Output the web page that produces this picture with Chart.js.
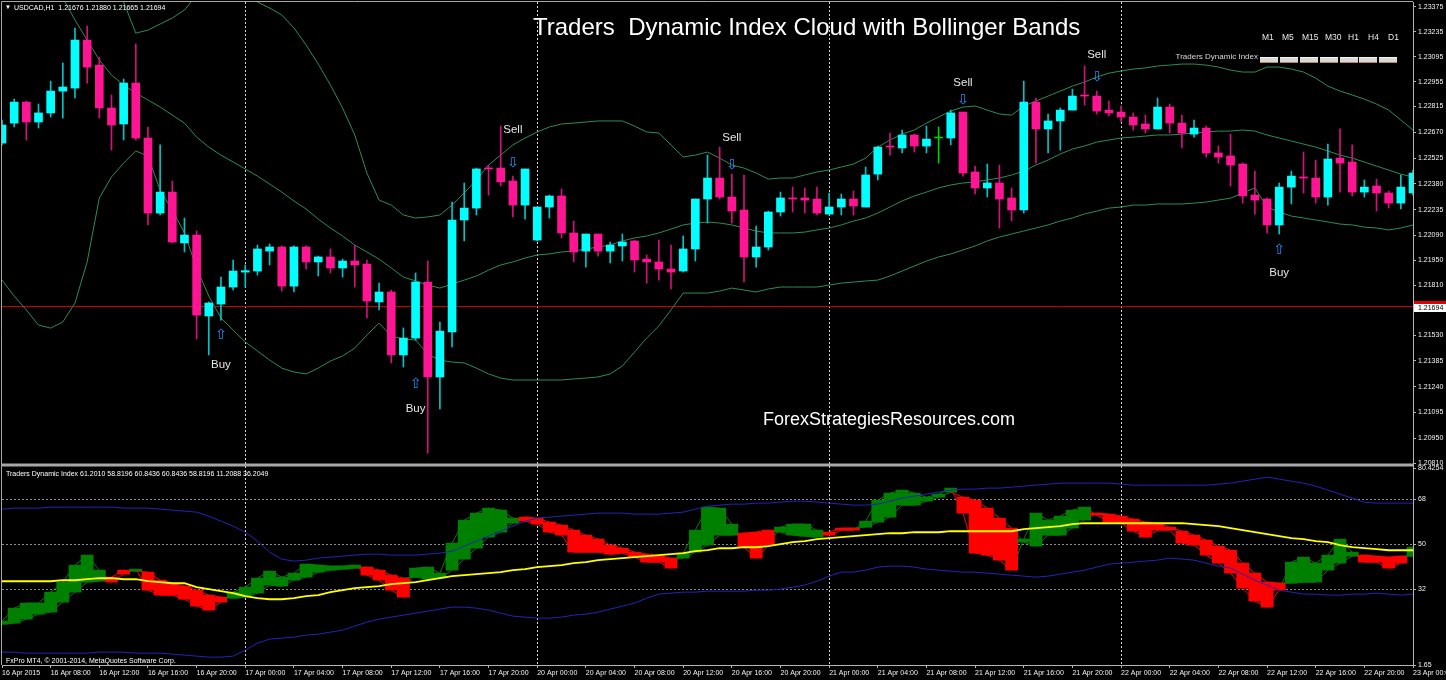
<!DOCTYPE html>
<html>
<head>
<meta charset="utf-8">
<script src="https://cdn.jsdelivr.net/npm/chart.js@4.4.1/dist/chart.umd.min.js"></script>
<style>
  html, body { margin: 0; padding: 0; background: #000; }
  #wrap { position: relative; width: 1446px; height: 680px; overflow: hidden; background: #000; }
  #chart { position: absolute; left: 0; top: 0; }
  .txt { position: absolute; white-space: pre; color: #fff; font-family: "Liberation Sans", Arial, sans-serif; line-height: 1; }
  .tf { position: absolute; top: 57px; width: 18px; height: 6px; background: #d8d8d8; border-top: 1px solid #f4f4f4; border-bottom: 1px solid #b8875a; box-sizing: border-box; }
</style>
</head>
<body>
<div id="wrap">
  <canvas id="chart" width="1446" height="680"></canvas>

  <div class="txt" style="left:5px;top:4px;font-size:6px;">▼</div>
  <div class="txt" style="left:14px;top:4px;font-size:7px;">USDCAD,H1  1.21676 1.21880 1.21665 1.21694</div>
  <div class="txt" style="left:533px;top:15px;font-size:24px;">Traders  Dynamic Index Cloud with Bollinger Bands</div>
  <div class="txt" style="left:763px;top:410px;font-size:18px;">ForexStrategiesResources.com</div>

  <div class="txt" style="left:1262px;top:33px;font-size:8.5px;color:#e8e8e8;">M1</div>
  <div class="txt" style="left:1282px;top:33px;font-size:8.5px;color:#e8e8e8;">M5</div>
  <div class="txt" style="left:1302px;top:33px;font-size:8.5px;color:#e8e8e8;">M15</div>
  <div class="txt" style="left:1325px;top:33px;font-size:8.5px;color:#e8e8e8;">M30</div>
  <div class="txt" style="left:1348px;top:33px;font-size:8.5px;color:#e8e8e8;">H1</div>
  <div class="txt" style="left:1368px;top:33px;font-size:8.5px;color:#e8e8e8;">H4</div>
  <div class="txt" style="left:1388px;top:33px;font-size:8.5px;color:#e8e8e8;">D1</div>
  <div class="txt" style="right:188px;top:53px;font-size:8px;color:#d8d8d8;">Traders Dynamic Index</div>
  <div class="tf" style="left:1260px"></div>
  <div class="tf" style="left:1280px"></div>
  <div class="tf" style="left:1300px"></div>
  <div class="tf" style="left:1320px"></div>
  <div class="tf" style="left:1340px"></div>
  <div class="tf" style="left:1359px"></div>
  <div class="tf" style="left:1379px"></div>

  <div class="txt" style="left:6px;top:470px;font-size:7px;">Traders Dynamic Index 61.2010 58.8196 60.8436 60.8436 58.8196 11.2088 36.2049</div>
  <div class="txt" style="left:6px;top:657px;font-size:7px;">FxPro MT4, © 2001-2014, MetaQuotes Software Corp.</div>
</div>

<script>
// USDCAD H1 bars, 16 Apr 04:00 -> 23 Apr 00:00 (weekend skipped)
const sessionDays = ['16 Apr', '17 Apr', '20 Apr', '21 Apr', '22 Apr', '23 Apr'];
const firstBarHour = 4;
const firstLabel = '16 Apr 2015';
const labels = [];
sessionDays.forEach((d, k) => {
  const from = k === 0 ? firstBarHour : 0;
  const to = k === sessionDays.length - 1 ? 0 : 23;
  for (let h = from; h <= to; h++) labels.push(d + ' ' + String(h).padStart(2, '0') + ':00');
});

const open = [
  1.22610, 1.22722, 1.22840, 1.22728, 1.22779, 1.22902, 1.22919, 1.23189, 1.23048, 1.22807,
  1.22717, 1.22947, 1.22638, 1.22216, 1.22334, 1.22048, 1.22092, 1.21637, 1.21704, 1.21800,
  1.21884, 1.21890, 1.22002, 1.22025, 1.21805, 1.22025, 1.21941, 1.21969, 1.21907, 1.21946,
  1.21929, 1.21716, 1.21772, 1.21418, 1.21513, 1.21828, 1.21294, 1.21547, 1.22177, 1.22244,
  1.22469, 1.22469, 1.22396, 1.22261, 1.22064, 1.22250, 1.22312, 1.22104, 1.22002, 1.22098,
  1.22002, 1.22031, 1.22059, 1.21957, 1.21941, 1.21901, 1.21890, 1.22014, 1.22295, 1.22413,
  1.22306, 1.22233, 1.21969, 1.22025, 1.22222, 1.22301, 1.22301, 1.22295, 1.22210, 1.22250,
  1.22295, 1.22250, 1.22435, 1.22593, 1.22582, 1.22655, 1.22593, 1.22638, 1.22638, 1.22784,
  1.22447, 1.22357, 1.22385, 1.22301, 1.22233, 1.22840, 1.22689, 1.22734, 1.22795, 1.22880,
  1.22874, 1.22795, 1.22784, 1.22756, 1.22717, 1.22689, 1.22812, 1.22722, 1.22660, 1.22694,
  1.22554, 1.22537, 1.22492, 1.22317, 1.22295, 1.22149, 1.22362, 1.22419, 1.22413, 1.22306,
  1.22525, 1.22503, 1.22334, 1.22368, 1.22329, 1.22272, 1.22329
];
const high = [
  1.22739, 1.22857, 1.22846, 1.22829, 1.22958, 1.23060, 1.23257, 1.23268, 1.23093, 1.22880,
  1.22970, 1.23167, 1.22700, 1.22599, 1.22396, 1.22188, 1.22115, 1.21716, 1.21856, 1.21952,
  1.21924, 1.22036, 1.22042, 1.22031, 1.22031, 1.22031, 1.21974, 1.22014, 1.21957, 1.22036,
  1.21952, 1.21822, 1.21783, 1.21570, 1.21879, 1.21946, 1.21603, 1.22278, 1.22385, 1.22469,
  1.22486, 1.22705, 1.22424, 1.22464, 1.22250, 1.22317, 1.22351, 1.22171, 1.22098, 1.22098,
  1.22053, 1.22098, 1.22064, 1.21980, 1.22064, 1.22036, 1.22087, 1.22295, 1.22542, 1.22587,
  1.22435, 1.22430, 1.22143, 1.22227, 1.22334, 1.22362, 1.22357, 1.22362, 1.22329, 1.22323,
  1.22340, 1.22475, 1.22593, 1.22666, 1.22683, 1.22660, 1.22705, 1.22700, 1.22795, 1.22784,
  1.22480, 1.22492, 1.22486, 1.22357, 1.22958, 1.22863, 1.22773, 1.22807, 1.22913, 1.23043,
  1.22902, 1.22846, 1.22818, 1.22779, 1.22767, 1.22863, 1.22829, 1.22767, 1.22739, 1.22705,
  1.22593, 1.22660, 1.22497, 1.22452, 1.22301, 1.22385, 1.22452, 1.22559, 1.22514, 1.22604,
  1.22689, 1.22599, 1.22402, 1.22407, 1.22340, 1.22430, 1.22458
];
const low = [
  1.22599, 1.22700, 1.22627, 1.22694, 1.22756, 1.22750, 1.22863, 1.22947, 1.22750, 1.22570,
  1.22627, 1.22627, 1.22149, 1.22205, 1.22048, 1.21997, 1.21508, 1.21418, 1.21614, 1.21783,
  1.21800, 1.21867, 1.21924, 1.21777, 1.21772, 1.21901, 1.21862, 1.21879, 1.21856, 1.21800,
  1.21626, 1.21671, 1.21373, 1.21350, 1.21502, 1.20866, 1.21114, 1.21463, 1.22059, 1.22205,
  1.22317, 1.22368, 1.22194, 1.22182, 1.22059, 1.22188, 1.22076, 1.21941, 1.21912, 1.21974,
  1.21935, 1.21946, 1.21884, 1.21822, 1.21839, 1.21789, 1.21884, 1.21946, 1.22160, 1.22295,
  1.22160, 1.21828, 1.21912, 1.22008, 1.22199, 1.22222, 1.22216, 1.22205, 1.22205, 1.22205,
  1.22205, 1.22250, 1.22402, 1.22542, 1.22554, 1.22559, 1.22554, 1.22497, 1.22599, 1.22424,
  1.22323, 1.22306, 1.22132, 1.22171, 1.22216, 1.22497, 1.22554, 1.22570, 1.22795, 1.22823,
  1.22773, 1.22762, 1.22728, 1.22683, 1.22666, 1.22689, 1.22666, 1.22582, 1.22643, 1.22531,
  1.22497, 1.22368, 1.22272, 1.22210, 1.22104, 1.22098, 1.22267, 1.22329, 1.22272, 1.22261,
  1.22334, 1.22312, 1.22306, 1.22227, 1.22244, 1.22239, 1.22317
];
const close = [
  1.22711, 1.22840, 1.22728, 1.22779, 1.22902, 1.22925, 1.23189, 1.23037, 1.22807, 1.22711,
  1.22947, 1.22638, 1.22216, 1.22334, 1.22053, 1.22092, 1.21642, 1.21710, 1.21800, 1.21890,
  1.21892, 1.22014, 1.22025, 1.21805, 1.22025, 1.21941, 1.21969, 1.21907, 1.21946, 1.21924,
  1.21721, 1.21772, 1.21418, 1.21513, 1.21828, 1.21294, 1.21552, 1.22177, 1.22244, 1.22464,
  1.22464, 1.22391, 1.22261, 1.22464, 1.22250, 1.22312, 1.22104, 1.21997, 1.22098, 1.22002,
  1.22036, 1.22053, 1.21952, 1.21941, 1.21901, 1.21884, 1.22014, 1.22295, 1.22413, 1.22306,
  1.22227, 1.21969, 1.22025, 1.22222, 1.22301, 1.22295, 1.22289, 1.22216, 1.22250, 1.22295,
  1.22256, 1.22430, 1.22587, 1.22587, 1.22655, 1.22593, 1.22632, 1.22638, 1.22779, 1.22441,
  1.22357, 1.22385, 1.22295, 1.22233, 1.22840, 1.22689, 1.22734, 1.22795, 1.22874, 1.22874,
  1.22790, 1.22779, 1.22756, 1.22711, 1.22689, 1.22812, 1.22722, 1.22666, 1.22694, 1.22554,
  1.22531, 1.22486, 1.22312, 1.22289, 1.22149, 1.22362, 1.22424, 1.22413, 1.22306, 1.22520,
  1.22497, 1.22334, 1.22362, 1.22329, 1.22272, 1.22362, 1.22441
];

// Bollinger Bands (20) on price
const bbUpper = [
  1.26114, 1.25979, 1.25810, 1.25669, 1.25461, 1.25247, 1.24893, 1.24438, 1.23853, 1.23566,
  1.23403, 1.23228, 1.23245, 1.23279, 1.23313, 1.23358, 1.23442, 1.23555, 1.23583, 1.23555,
  1.23470, 1.23403, 1.23369, 1.23330, 1.23257, 1.23161, 1.23054, 1.22936, 1.22807, 1.22655,
  1.22441, 1.22289, 1.22261, 1.22205, 1.22188, 1.22194, 1.22205, 1.22261, 1.22329, 1.22402,
  1.22486, 1.22542, 1.22599, 1.22638, 1.22672, 1.22700, 1.22717, 1.22722, 1.22728, 1.22734,
  1.22734, 1.22734, 1.22705, 1.22672, 1.22666, 1.22599, 1.22531, 1.22542, 1.22559, 1.22525,
  1.22486, 1.22469, 1.22441, 1.22407, 1.22413, 1.22413, 1.22430, 1.22447, 1.22458, 1.22475,
  1.22492, 1.22525, 1.22587, 1.22627, 1.22660, 1.22683, 1.22722, 1.22756, 1.22790, 1.22812,
  1.22818, 1.22795, 1.22773, 1.22767, 1.22818, 1.22846, 1.22874, 1.22902, 1.22930, 1.22953,
  1.22981, 1.23003, 1.23015, 1.23026, 1.23032, 1.23043, 1.23048, 1.23054, 1.23054, 1.23048,
  1.23037, 1.23020, 1.23009, 1.23009, 1.23037, 1.23037, 1.23026, 1.23009, 1.22975, 1.22930,
  1.22902, 1.22880, 1.22857, 1.22829, 1.22795, 1.22739, 1.22683
];
const bbMiddle = [
  1.23976, 1.23864, 1.23740, 1.23628, 1.23515, 1.23425, 1.23302, 1.23189, 1.23077, 1.22992,
  1.22936, 1.22891, 1.22852, 1.22812, 1.22767, 1.22722, 1.22643, 1.22587, 1.22542, 1.22503,
  1.22464, 1.22424, 1.22379, 1.22334, 1.22284, 1.22239, 1.22182, 1.22132, 1.22087, 1.22036,
  1.21997, 1.21957, 1.21907, 1.21856, 1.21834, 1.21811, 1.21794, 1.21817, 1.21839, 1.21862,
  1.21895, 1.21924, 1.21941, 1.21963, 1.21980, 1.21986, 1.21997, 1.22002, 1.22014, 1.22025,
  1.22036, 1.22059, 1.22076, 1.22087, 1.22104, 1.22126, 1.22149, 1.22160, 1.22165, 1.22160,
  1.22149, 1.22132, 1.22115, 1.22104, 1.22104, 1.22104, 1.22109, 1.22121, 1.22132, 1.22149,
  1.22171, 1.22188, 1.22216, 1.22250, 1.22284, 1.22312, 1.22334, 1.22357, 1.22374, 1.22385,
  1.22391, 1.22402, 1.22413, 1.22430, 1.22452, 1.22486, 1.22514, 1.22548, 1.22576, 1.22593,
  1.22615, 1.22627, 1.22638, 1.22643, 1.22649, 1.22655, 1.22655, 1.22660, 1.22666, 1.22672,
  1.22677, 1.22677, 1.22683, 1.22677, 1.22655, 1.22638, 1.22621, 1.22604, 1.22587, 1.22565,
  1.22542, 1.22525, 1.22503, 1.22480, 1.22458, 1.22435, 1.22419
];
const bbLower = [
  1.21839, 1.21749, 1.21671, 1.21586, 1.21569, 1.21603, 1.21710, 1.21941, 1.22300, 1.22419,
  1.22497, 1.22565, 1.22537, 1.22345, 1.22233, 1.22104, 1.21907, 1.21749, 1.21626, 1.21558,
  1.21491, 1.21440, 1.21389, 1.21344, 1.21322, 1.21311, 1.21344, 1.21384, 1.21412, 1.21457,
  1.21530, 1.21597, 1.21524, 1.21508, 1.21502, 1.21423, 1.21389, 1.21378, 1.21373, 1.21344,
  1.21311, 1.21288, 1.21277, 1.21277, 1.21277, 1.21277, 1.21277, 1.21283, 1.21288, 1.21294,
  1.21311, 1.21356, 1.21434, 1.21513, 1.21581, 1.21671, 1.21766, 1.21766, 1.21766, 1.21777,
  1.21794, 1.21783, 1.21772, 1.21789, 1.21800, 1.21800, 1.21800, 1.21800, 1.21811, 1.21822,
  1.21828, 1.21834, 1.21839, 1.21862, 1.21890, 1.21918, 1.21946, 1.21969, 1.21986, 1.22008,
  1.22031, 1.22059, 1.22081, 1.22098, 1.22115, 1.22132, 1.22149, 1.22171, 1.22188, 1.22211,
  1.22227, 1.22244, 1.22250, 1.22261, 1.22261, 1.22267, 1.22267, 1.22267, 1.22272, 1.22278,
  1.22289, 1.22300, 1.22329, 1.22357, 1.22250, 1.22222, 1.22199, 1.22188, 1.22177, 1.22166,
  1.22154, 1.22149, 1.22137, 1.22132, 1.22121, 1.22132, 1.22149
];

// Traders Dynamic Index
const tdiPrice = [
  19.2, 24.4, 26.4, 26.4, 30.8, 34.8, 41.6, 45.6, 39.6, 34.8,
  38.0, 40.0, 31.6, 29.6, 29.6, 28.0, 25.2, 23.6, 26.8, 30.8,
  32.8, 36.4, 39.2, 36.8, 38.4, 42.0, 41.6, 41.2, 41.2, 41.6,
  37.6, 35.6, 31.6, 28.8, 40.4, 40.8, 38.4, 50.4, 59.6, 62.4,
  64.4, 63.6, 60.4, 59.2, 58.0, 54.8, 53.6, 46.8, 46.8, 46.8,
  46.0, 46.4, 44.8, 42.8, 42.8, 40.4, 46.4, 55.6, 64.8, 64.4,
  58.0, 48.8, 44.4, 49.6, 56.8, 58.0, 58.0, 55.6, 53.6, 55.6,
  55.6, 59.2, 67.6, 70.4, 71.6, 70.4, 68.8, 70.0, 72.4, 62.4,
  46.4, 45.6, 43.6, 39.6, 52.0, 62.4, 59.6, 61.2, 63.6, 64.8,
  61.6, 58.8, 58.4, 55.2, 52.8, 55.6, 55.6, 50.4, 49.6, 45.6,
  42.4, 38.4, 32.4, 27.2, 24.8, 31.6, 42.8, 44.8, 42.4, 45.6,
  52.0, 46.8, 42.8, 42.8, 40.4, 42.4, 48.8
];
const tdiSignal = [
  18.0, 18.4, 20.0, 22.0, 22.8, 26.8, 30.8, 34.8, 35.2, 36.8,
  39.6, 39.2, 38.8, 35.6, 34.4, 33.2, 31.6, 29.6, 28.8, 28.4,
  28.8, 30.4, 33.6, 33.2, 35.6, 36.8, 38.8, 39.6, 40.0, 40.4,
  40.8, 39.6, 37.6, 36.4, 36.8, 36.0, 36.4, 39.6, 44.0, 48.4,
  52.8, 54.8, 58.4, 60.8, 60.4, 58.8, 57.6, 55.6, 53.6, 52.0,
  49.6, 48.4, 46.8, 46.0, 45.2, 44.4, 44.4, 46.8, 49.6, 53.6,
  53.6, 54.4, 54.8, 55.6, 54.8, 53.6, 53.2, 52.8, 54.8, 56.4,
  56.4, 56.8, 58.8, 60.8, 65.6, 65.6, 67.2, 68.8, 70.8, 68.8,
  67.6, 64.4, 60.4, 56.4, 50.8, 49.2, 53.6, 53.6, 56.4, 59.6,
  62.4, 62.0, 61.2, 60.0, 58.8, 58.4, 56.8, 55.2, 53.6, 51.6,
  49.2, 47.6, 42.4, 38.4, 34.8, 34.4, 34.4, 34.8, 34.8, 39.6,
  42.4, 45.2, 45.6, 45.2, 44.8, 45.2, 45.2
];
const tdiBase = [
  35.2, 35.2, 35.2, 35.2, 35.2, 35.6, 35.6, 36.0, 36.4, 36.4,
  36.0, 36.0, 35.2, 34.8, 34.4, 34.4, 32.8, 32.0, 31.2, 30.4,
  29.2, 28.4, 28.0, 28.0, 28.4, 29.2, 29.6, 30.8, 31.6, 32.4,
  32.8, 33.2, 34.0, 34.4, 34.8, 35.6, 36.4, 37.2, 37.6, 38.0,
  38.4, 38.8, 39.6, 40.0, 40.8, 41.2, 41.6, 42.4, 42.8, 43.6,
  44.0, 44.4, 44.8, 45.2, 45.6, 46.0, 46.4, 47.2, 47.6, 48.4,
  48.4, 48.8, 48.8, 49.2, 50.0, 50.8, 51.2, 52.0, 52.4, 52.8,
  53.2, 53.6, 54.0, 54.4, 54.4, 54.8, 54.8, 54.8, 55.2, 55.2,
  55.2, 55.2, 55.2, 55.2, 56.0, 56.4, 56.8, 57.2, 58.0, 58.4,
  58.4, 58.4, 58.4, 58.4, 58.4, 58.4, 58.4, 58.4, 58.0, 57.6,
  57.2, 56.4, 55.6, 54.8, 54.0, 53.2, 52.4, 52.0, 51.2, 50.8,
  49.6, 48.8, 48.4, 48.0, 47.6, 47.6, 47.6
];
const tdiUpper = [
  64.0, 64.4, 64.4, 64.4, 64.8, 64.8, 64.8, 64.8, 64.8, 64.8,
  64.4, 64.4, 64.4, 64.0, 63.6, 63.2, 62.8, 61.2, 59.2, 57.2,
  54.8, 51.2, 46.8, 44.0, 43.2, 43.6, 44.4, 44.8, 45.2, 45.6,
  46.0, 46.0, 45.6, 45.6, 45.6, 46.0, 46.4, 47.2, 49.2, 51.2,
  53.2, 55.2, 57.2, 59.2, 60.4, 60.8, 61.2, 61.6, 62.0, 62.4,
  62.4, 62.4, 62.0, 62.0, 62.0, 62.4, 62.8, 64.0, 65.2, 65.6,
  66.0, 66.0, 66.4, 66.4, 66.8, 67.2, 67.2, 66.8, 66.4, 66.0,
  65.6, 65.6, 66.0, 67.2, 68.4, 69.2, 70.0, 70.8, 71.6, 72.0,
  72.0, 72.4, 72.4, 72.8, 73.2, 73.6, 74.0, 74.4, 74.4, 74.4,
  74.4, 74.4, 74.0, 73.6, 73.6, 73.6, 73.6, 73.6, 73.6, 73.6,
  74.0, 74.4, 75.2, 76.0, 76.8, 76.0, 75.2, 74.4, 73.2, 71.6,
  70.0, 68.4, 66.8, 66.4, 66.4, 66.4, 66.4
];
const tdiLower = [
  6.8, 6.8, 6.4, 6.4, 6.4, 6.4, 6.4, 6.4, 6.8, 6.8,
  6.8, 6.4, 6.4, 6.4, 6.0, 5.6, 5.2, 4.8, 4.8, 5.2,
  7.6, 10.4, 12.0, 12.4, 12.8, 13.6, 14.0, 14.8, 15.6, 17.2,
  18.8, 20.0, 20.8, 21.6, 22.4, 23.2, 24.0, 24.8, 24.8, 24.4,
  23.6, 22.4, 21.2, 20.8, 20.4, 20.4, 20.8, 21.6, 22.0, 22.8,
  24.0, 25.2, 26.4, 28.4, 30.0, 30.4, 30.8, 30.8, 31.2, 31.2,
  31.2, 31.2, 31.6, 31.6, 32.0, 32.8, 33.6, 35.2, 37.2, 38.8,
  38.8, 39.6, 40.8, 41.2, 41.2, 40.8, 40.0, 39.6, 39.2, 38.8,
  38.8, 38.4, 38.0, 37.6, 37.2, 36.8, 37.2, 38.0, 38.8, 39.6,
  40.8, 42.0, 42.4, 42.8, 43.2, 43.6, 44.4, 44.0, 43.6, 42.4,
  41.2, 40.4, 38.0, 35.6, 33.6, 31.6, 30.8, 30.0, 30.0, 29.6,
  29.6, 30.0, 30.0, 30.4, 30.0, 29.6, 30.0
];

const priceTicks = [1.23375, 1.23235, 1.23095, 1.22955, 1.22815, 1.22670, 1.22525, 1.22380, 1.22235, 1.22090,
  1.21950, 1.21810, 1.21670, 1.21530, 1.21385, 1.21240, 1.21095, 1.20950, 1.20810];
const tdiTicks = [1.65, 32, 50, 68, 80.4254];
const tdiLevels = [32, 50, 68];
const bidPrice = 1.21694;

const signalBars = [18, 34, 42, 60, 79, 90, 105];
const signalSide = ['Buy', 'Buy', 'Sell', 'Sell', 'Sell', 'Sell', 'Buy'];
const arrowPrices = [1.21530, 1.21254, 1.22497, 1.22486, 1.22852, 1.22981, 1.22008];
const textPrices = [1.21361, 1.21114, 1.22683, 1.22638, 1.22947, 1.23105, 1.21879];

const colors = {
  bull: '#00ffff', bear: '#ff1493', doji: '#00d000',
  bullWick: '#00c4c4', bearWick: '#d4107c',
  bb: '#2e8b57', blue: '#2424b8', yellow: '#ffff00',
  cloudUp: '#008000', cloudDown: '#ff0000',
  axis: '#b4b4b4', text: '#f2f2f2'
};

const candleColor = (i, up, down, flat) =>
  close[i] > open[i] ? up : (close[i] < open[i] ? down : flat);

const axisFont = { family: '"Liberation Sans", Arial, sans-serif', size: 7 };

const mtOverlay = {
  id: 'mtOverlay',
  beforeDatasetsDraw(chart) {
    const { ctx, chartArea: a, scales: { x, y } } = chart;
    ctx.save();
    ctx.lineWidth = 1;
    // period separators (each new day)
    ctx.strokeStyle = '#d8d8d8';
    ctx.setLineDash([2, 2]);
    labels.forEach((lab, i) => {
      if (i === 0 || !lab.endsWith('00:00')) return;
      const px = Math.round(x.getPixelForValue(i)) + 0.5;
      if (px >= a.right - 1) return;
      ctx.beginPath(); ctx.moveTo(px, a.top); ctx.lineTo(px, a.bottom); ctx.stroke();
    });
    ctx.setLineDash([]);
    // bid line
    const by = Math.round(y.getPixelForValue(bidPrice)) + 0.5;
    ctx.strokeStyle = '#c80000';
    ctx.beginPath(); ctx.moveTo(a.left, by); ctx.lineTo(a.right, by); ctx.stroke();
    ctx.restore();
  },
  afterDatasetsDraw(chart) {
    const { ctx, scales: { x, y } } = chart;
    ctx.save();
    ctx.textAlign = 'center';
    ctx.textBaseline = 'middle';
    signalBars.forEach((bar, k) => {
      const px = x.getPixelForValue(bar);
      ctx.fillStyle = '#1e90ff';
      ctx.font = '14px "DejaVu Sans"';
      ctx.fillText(signalSide[k] === 'Buy' ? '⇧' : '⇩', px, y.getPixelForValue(arrowPrices[k]));
      ctx.fillStyle = '#e6e6e6';
      ctx.font = '11.5px "Liberation Sans", Arial';
      ctx.fillText(signalSide[k], px, y.getPixelForValue(textPrices[k]));
    });
    ctx.restore();
  },
  afterDraw(chart) {
    const { ctx, chartArea: a, scales: { y } } = chart;
    ctx.save();
    ctx.strokeStyle = '#a8a8a8';
    ctx.lineWidth = 1;
    ctx.beginPath();
    ctx.moveTo(a.left - 0.5, a.top - 0.5); ctx.lineTo(a.right, a.top - 0.5);
    ctx.moveTo(a.left - 0.5, a.top - 0.5); ctx.lineTo(a.left - 0.5, a.bottom);
    ctx.stroke();
    // panel separator
    ctx.fillStyle = '#a8a8a8';
    ctx.fillRect(a.left, y.bottom - 1.5, a.right - a.left, 3);
    // bid price label
    const by = Math.round(y.getPixelForValue(bidPrice));
    ctx.fillStyle = '#e00000';
    ctx.fillRect(a.right + 1, by - 5, 33, 3);
    ctx.fillStyle = '#ffffff';
    ctx.fillRect(a.right + 1, by - 2, 33, 8);
    ctx.fillStyle = '#000000';
    ctx.font = '7px "Liberation Sans", Arial';
    ctx.textBaseline = 'middle';
    ctx.fillText(bidPrice.toFixed(5), a.right + 5, by + 2);
    ctx.restore();
  }
};

new Chart(document.getElementById('chart'), {
  type: 'bar',
  data: {
    labels,
    datasets: [
      { label: 'Body', data: labels.map((_, i) => [open[i], close[i]]), yAxisID: 'y', grouped: false,
        barThickness: 8, minBarLength: 1, order: 1,
        backgroundColor: labels.map((_, i) => candleColor(i, colors.bull, colors.bear, colors.doji)) },
      { label: 'Wick', data: labels.map((_, i) => [low[i], high[i]]), yAxisID: 'y', grouped: false,
        barThickness: 1, order: 2,
        backgroundColor: labels.map((_, i) => candleColor(i, colors.bullWick, colors.bearWick, colors.doji)) },
      { type: 'line', label: 'BB upper', data: bbUpper, yAxisID: 'y', borderColor: colors.bb, borderWidth: 1, pointRadius: 0, order: 3 },
      { type: 'line', label: 'BB middle', data: bbMiddle, yAxisID: 'y', borderColor: colors.bb, borderWidth: 1, pointRadius: 0, order: 3 },
      { type: 'line', label: 'BB lower', data: bbLower, yAxisID: 'y', borderColor: colors.bb, borderWidth: 1, pointRadius: 0, order: 3 },

      { type: 'line', label: 'Market base', data: tdiBase, yAxisID: 'y2', borderColor: colors.yellow, borderWidth: 2, pointRadius: 0, order: 1 },
      { type: 'line', label: 'Volatility upper', data: tdiUpper, yAxisID: 'y2', borderColor: colors.blue, borderWidth: 1, pointRadius: 0, order: 2 },
      { type: 'line', label: 'Volatility lower', data: tdiLower, yAxisID: 'y2', borderColor: colors.blue, borderWidth: 1, pointRadius: 0, order: 2 },
      { label: 'Cloud', data: labels.map((_, i) => [tdiSignal[i], tdiPrice[i]]), yAxisID: 'y2', grouped: false,
        barPercentage: 1, categoryPercentage: 1, minBarLength: 1, order: 3,
        backgroundColor: labels.map((_, i) => tdiPrice[i] >= tdiSignal[i] ? colors.cloudUp : colors.cloudDown) },
      { type: 'line', label: 'RSI price line', data: tdiPrice, yAxisID: 'y2', borderWidth: 1, pointRadius: 0, order: 4,
        segment: { borderColor: c => tdiPrice[c.p1DataIndex] >= tdiSignal[c.p1DataIndex] ? colors.cloudUp : colors.cloudDown } },
      { type: 'line', label: 'Trade signal line', data: tdiSignal, yAxisID: 'y2', borderWidth: 1, pointRadius: 0, order: 4,
        segment: { borderColor: c => tdiPrice[c.p1DataIndex] >= tdiSignal[c.p1DataIndex] ? colors.cloudUp : colors.cloudDown } }
    ]
  },
  options: {
    responsive: false,
    animation: false,
    events: [],
    layout: { padding: { left: 2, top: 2, right: 0, bottom: 0 } },
    plugins: { legend: { display: false }, tooltip: { enabled: false } },
    scales: {
      x: {
        type: 'category',
        offset: false,
        grid: { offset: false, drawOnChartArea: false, drawTicks: true, tickLength: 3, tickColor: colors.axis },
        border: { display: true, color: colors.axis },
        ticks: {
          autoSkip: false, maxRotation: 0, minRotation: 0, align: 'start', padding: 1,
          color: colors.text, font: axisFont,
          callback: v => v === 0 ? firstLabel : labels[v]
        },
        afterBuildTicks: s => { s.ticks = s.ticks.filter(t => t.value % 4 === 0); },
        afterFit: s => { s.height = 15; s.paddingLeft = 0; s.paddingRight = 0; }
      },
      y: {
        position: 'right', stack: 'panels', stackWeight: 463,
        min: 1.20799, max: 1.23403,
        grid: { drawOnChartArea: false, drawTicks: true, tickLength: 3, tickColor: colors.axis },
        border: { display: true, color: colors.axis, dash: [2, 2] },
        ticks: { color: colors.text, font: axisFont, padding: 2, callback: v => v.toFixed(5) },
        afterBuildTicks: s => { s.ticks = priceTicks.map(v => ({ value: v })); },
        afterFit: s => { s.width = 33; s.paddingTop = 0; s.paddingBottom = 0; }
      },
      y2: {
        position: 'right', stack: 'panels', stackWeight: 200,
        min: 1.65, max: 81.65,
        grid: {
          drawOnChartArea: true, drawTicks: true, tickLength: 3, tickColor: colors.axis,
          color: c => tdiLevels.includes(c.tick && c.tick.value) ? '#8c8c8c' : 'rgba(0,0,0,0)'
        },
        border: { display: true, color: colors.axis, dash: [2, 2] },
        ticks: { color: colors.text, font: axisFont, padding: 2, callback: v => String(v) },
        afterBuildTicks: s => { s.ticks = tdiTicks.map(v => ({ value: v })); },
        afterFit: s => { s.width = 33; s.paddingTop = 0; s.paddingBottom = 0; }
      }
    }
  },
  plugins: [mtOverlay]
});
</script>
</body>
</html>
